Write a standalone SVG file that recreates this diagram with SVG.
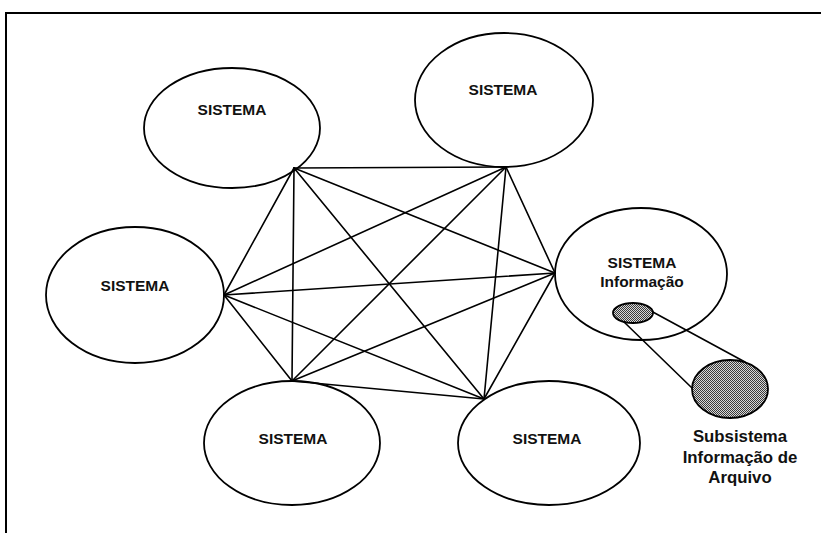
<svg xmlns="http://www.w3.org/2000/svg" width="821" height="533" viewBox="0 0 821 533">
  <defs>
    <!-- halftone stipple used for the subsystem shapes -->
    <pattern id="stipple" width="2" height="2" patternUnits="userSpaceOnUse">
      <rect width="2" height="2" fill="#d8d8d8"/>
      <rect width="1" height="1" fill="#3a3a3a"/>
      <rect x="1" y="1" width="1" height="1" fill="#3a3a3a"/>
    </pattern>
  </defs>
  <style>
    .frame { fill: none; stroke: #000; stroke-width: 2; }
    .sys { fill: #fff; stroke: #000; stroke-width: 1.8; }
    .link { stroke: #000; stroke-width: 1.6; fill: none; stroke-linecap: round; }
    .sub { fill: url(#stipple); stroke: #000; stroke-width: 1.8; }
    .lbl { font-family: "Liberation Sans", Arial, sans-serif; font-weight: bold; font-size: 15.5px; fill: #111; text-anchor: middle; }
    .lbl2 { font-family: "Liberation Sans", Arial, sans-serif; font-weight: bold; font-size: 16.8px; fill: #111; text-anchor: middle; }
  </style>

  <rect width="821" height="533" fill="#fff"/>

  <!-- page frame: top and left edges only -->
  <path class="frame" d="M6,533 V13 H821"/>

  <!-- systems -->
  <g id="sistema-topo-esq">
    <ellipse class="sys" cx="232" cy="128" rx="88" ry="60"/>
    <text class="lbl" x="232" y="114.5">SISTEMA</text>
  </g>
  <g id="sistema-topo-dir">
    <ellipse class="sys" cx="504" cy="100" rx="89" ry="67"/>
    <text class="lbl" x="503" y="94.5">SISTEMA</text>
  </g>
  <g id="sistema-esq">
    <ellipse class="sys" cx="135" cy="295" rx="89" ry="68"/>
    <text class="lbl" x="135" y="290.5">SISTEMA</text>
  </g>
  <g id="sistema-base-esq">
    <ellipse class="sys" cx="292" cy="443" rx="88" ry="62"/>
    <text class="lbl" x="293" y="443.5">SISTEMA</text>
  </g>
  <g id="sistema-base-dir">
    <ellipse class="sys" cx="549" cy="443" rx="91" ry="62"/>
    <text class="lbl" x="547" y="443.5">SISTEMA</text>
  </g>
  <g id="sistema-informacao">
    <ellipse class="sys" cx="641" cy="274" rx="86" ry="66"/>
    <text class="lbl" x="642" y="267.5">SISTEMA</text>
    <text class="lbl" x="642" y="286.5">Informação</text>
  </g>

  <!-- every system linked to every other -->
  <g id="connectors">
    <line class="link" x1="294" y1="168" x2="506" y2="167"/>
    <line class="link" x1="294" y1="168" x2="555" y2="273"/>
    <line class="link" x1="294" y1="168" x2="224" y2="295"/>
    <line class="link" x1="294" y1="168" x2="292" y2="381"/>
    <line class="link" x1="294" y1="168" x2="484" y2="399"/>
    <line class="link" x1="506" y1="167" x2="555" y2="273"/>
    <line class="link" x1="506" y1="167" x2="224" y2="295"/>
    <line class="link" x1="506" y1="167" x2="292" y2="381"/>
    <line class="link" x1="506" y1="167" x2="484" y2="399"/>
    <line class="link" x1="555" y1="273" x2="224" y2="295"/>
    <line class="link" x1="555" y1="273" x2="292" y2="381"/>
    <line class="link" x1="555" y1="273" x2="484" y2="399"/>
    <line class="link" x1="224" y1="295" x2="292" y2="381"/>
    <line class="link" x1="224" y1="295" x2="484" y2="399"/>
    <line class="link" x1="292" y1="381" x2="484" y2="399"/>
  </g>

  <!-- file subsystem, magnified out of the information system -->
  <g id="subsistema-arquivo">
    <line class="link" x1="651" y1="311" x2="745" y2="362"/>
    <line class="link" x1="623" y1="321" x2="692" y2="388"/>
    <ellipse class="sub" cx="633" cy="313" rx="20" ry="10"/>
    <ellipse class="sub" cx="730" cy="389" rx="38" ry="29"/>
    <text class="lbl2" x="740" y="442">Subsistema</text>
    <text class="lbl2" x="740" y="463">Informação de</text>
    <text class="lbl2" x="740" y="483">Arquivo</text>
  </g>
</svg>
